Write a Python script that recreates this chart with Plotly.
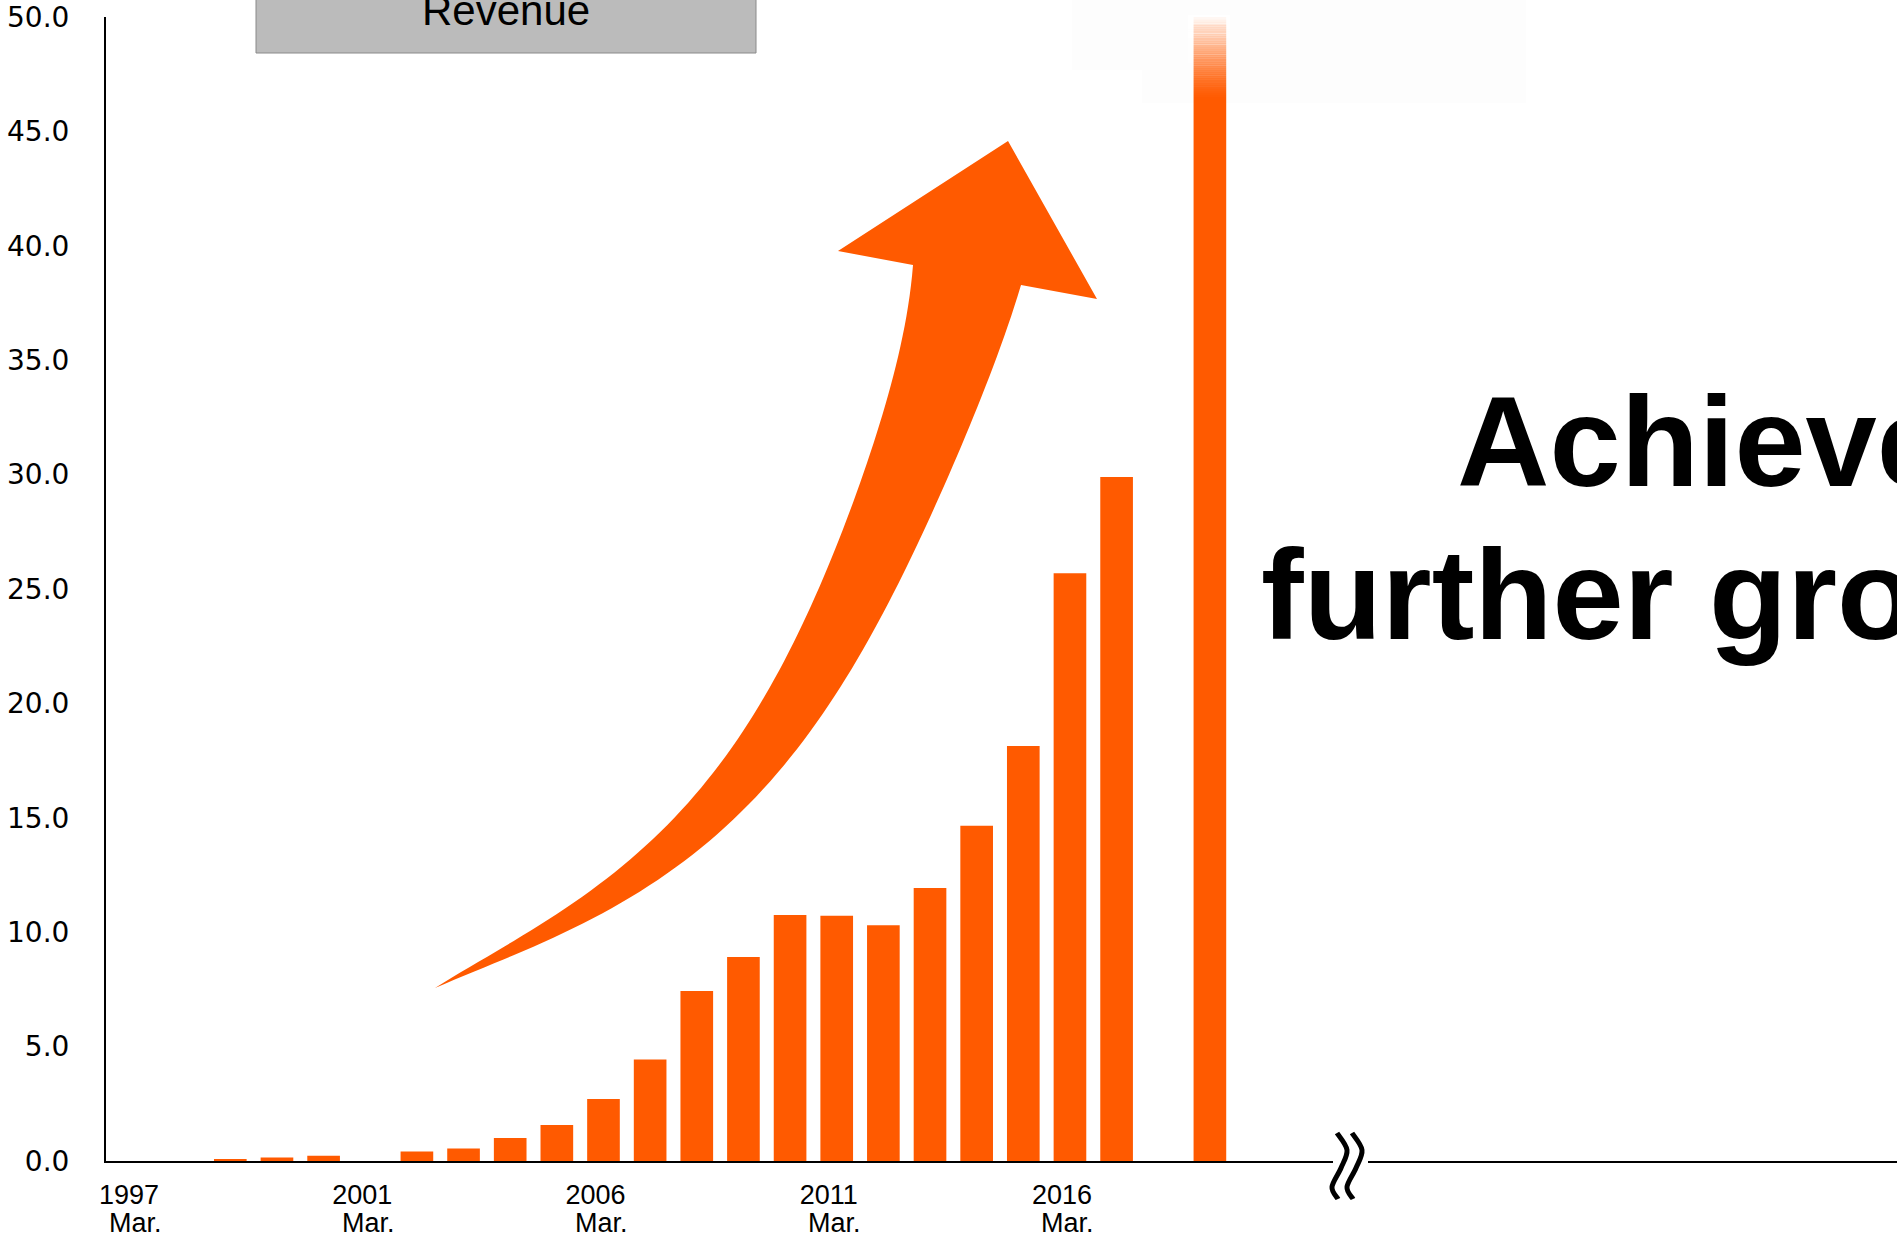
import numpy as np
import plotly.graph_objects as go

# ---------------- data ----------------
slots = list(range(24))
revenue = [None, None, 0.09, 0.15, 0.23, None, 0.41, 0.55, 1.0, 1.57, 2.71, 4.44,
           7.43, 8.92, 10.75, 10.72, 10.30, 11.93, 14.65, 18.14, 25.69, 29.90, None, 60.0]
tick_slots = [0, 5, 10, 15, 20]
tick_years = ["1997", "2001", "2006", "2011", "2016"]
tick_month = ["Mar.", "Mar.", "Mar.", "Mar.", "Mar."]
y_ticks = [0, 5, 10, 15, 20, 25, 30, 35, 40, 45, 50]
title_box = "Revenue"
message = ["Achieve", "further growth"]

ORANGE = "#FF5A00"
W, H = 1897, 1240
L, T, R, B = 106, 17, 0, 79
PW, PH = W - L - R, H - T - B
BASE = H - B  # page y of plot bottom


def px(x):
    return (x - L) / PW


def py(y):
    return (BASE - y) / PH


def smooth(points):
    d = ""
    n = len(points)
    for i in range(n - 1):
        p0 = points[i - 1] if i > 0 else points[i]
        p1 = points[i]
        p2 = points[i + 1]
        p3 = points[i + 2] if i + 2 < n else points[i + 1]
        c1 = (p1[0] + (p2[0] - p0[0]) / 6, p1[1] + (p2[1] - p0[1]) / 6)
        c2 = (p2[0] - (p3[0] - p1[0]) / 6, p2[1] - (p3[1] - p1[1]) / 6)
        d += " C {:.5f},{:.5f} {:.5f},{:.5f} {:.5f},{:.5f}".format(
            px(c1[0]), py(c1[1]), px(c2[0]), py(c2[1]), px(p2[0]), py(p2[1]))
    return d


def lin(points):
    return "".join(" L {:.5f},{:.5f}".format(px(a), py(b)) for a, b in points)


def fit_curve(points, deg=5, n=90):
    pts = np.array(points, dtype=float)
    seg = np.sqrt((np.diff(pts, axis=0) ** 2).sum(axis=1))
    t = np.concatenate([[0], np.cumsum(seg)])
    t = t / t[-1]
    w = np.ones(len(t))
    w[0] = w[-1] = 30
    cx = np.polyfit(t, pts[:, 0], deg, w=w)
    cy = np.polyfit(t, pts[:, 1], deg, w=w)
    ts = np.linspace(0, 1, n)
    out = list(zip(np.polyval(cx, ts), np.polyval(cy, ts)))
    out[0] = tuple(pts[0])
    out[-1] = tuple(pts[-1])
    return out


fig = go.Figure()
fig.add_trace(go.Bar(x=slots, y=revenue, marker_color=ORANGE, marker_line_width=0,
                     width=0.7, showlegend=False, hoverinfo="skip"))

shapes = []

# faint background boxes at top right
shapes.append(dict(type="rect", xref="paper", yref="paper", x0=px(1072), x1=px(1453),
                   y0=py(70), y1=py(-20), fillcolor="#FDFDFD", line_width=0, layer="below"))
shapes.append(dict(type="rect", xref="paper", yref="paper", x0=px(1142), x1=px(1526),
                   y0=py(103), y1=py(-20), fillcolor="#FDFDFD", line_width=0, layer="below"))

# Revenue box
shapes.append(dict(type="rect", xref="paper", yref="paper", x0=px(256), x1=px(756),
                   y0=py(53), y1=py(-5), fillcolor="#BBBBBB",
                   line=dict(color="#8A8A8A", width=1), layer="above"))

# fade at the top of the tall bar
n_f = 40
top, bot = 15, 99
for i in range(n_f):
    y0 = top + (bot - top) * i / n_f
    y1 = top + (bot - top) * (i + 1) / n_f
    op = 1 - (i + 0.5) / n_f
    shapes.append(dict(type="rect", xref="paper", yref="paper", x0=px(1188), x1=px(1230),
                       y0=py(y1), y1=py(y0 - 0.3), fillcolor="white", opacity=op ** 1.3,
                       line_width=0, layer="above"))

# curved arrow (outline)
upper = [(435, 988), (503, 950), (560, 913), (600, 880), (620, 863), (660, 837), (670, 820),
         (707, 787), (750, 720), (787, 653), (822, 580), (837, 540), (860, 483), (880, 433),
         (895, 367), (907, 300), (913, 265)]
head = [(838, 251), (1008, 141), (1097, 299), (1021, 285)]
lower = [(1021, 285), (1017, 300), (1012, 320), (993, 367), (967, 433), (937, 500),
         (910, 553), (882, 620), (860, 657), (813, 727), (760, 793), (707, 843), (680, 863),
         (657, 880), (627, 900), (563, 933), (503, 960), (435, 988)]
up_s = fit_curve(upper)
lo_s = fit_curve(lower)
path = "M {:.5f},{:.5f}".format(px(up_s[0][0]), py(up_s[0][1]))
path += lin(up_s[1:]) + lin(head) + lin(lo_s[1:]) + " Z"
shapes.append(dict(type="path", xref="paper", yref="paper", path=path,
                   fillcolor=ORANGE, line_width=0, layer="above"))

# axis break mark
shapes.append(dict(type="rect", xref="paper", yref="paper", x0=px(1333), x1=px(1368),
                   y0=py(1166), y1=py(1156), fillcolor="white", line_width=0, layer="above"))
for dx in (0, 15):
    p = [(1337 + dx, 1133), (1347 + dx, 1150), (1341 + dx, 1168), (1332 + dx, 1187), (1338 + dx, 1199)]
    d = "M {:.5f},{:.5f}".format(px(p[0][0]), py(p[0][1])) + smooth(p)
    shapes.append(dict(type="path", xref="paper", yref="paper", path=d,
                       line=dict(color="black", width=5), layer="above"))

annotations = []
annotations.append(dict(text=title_box, xref="paper", yref="paper", x=px(506), y=py(10.5),
                        xanchor="center", yanchor="middle", showarrow=False,
                        font=dict(family="Liberation Sans, Arial", size=42, color="black")))
annotations.append(dict(text="<b>" + message[0] + "</b>", xref="paper", yref="paper",
                        x=px(1455), y=py(441), xanchor="left", yanchor="middle", showarrow=False,
                        font=dict(family="Liberation Sans, Arial", size=128, color="black")))
annotations.append(dict(text="<b>" + message[1] + "</b>", xref="paper", yref="paper",
                        x=px(1259), y=py(594), xanchor="left", yanchor="middle", showarrow=False,
                        font=dict(family="Liberation Sans, Arial", size=128, color="black")))
for s, m in zip(tick_slots, tick_month):
    annotations.append(dict(text=m, xref="x", yref="paper", x=s, y=py(1222.5),
                            xanchor="center", yanchor="middle", showarrow=False, xshift=-2,
                            font=dict(family="Liberation Sans, Arial", size=27, color="black")))

fig.update_layout(
    width=W, height=H, margin=dict(l=L, r=R, t=T, b=B, autoexpand=False),
    paper_bgcolor="white", plot_bgcolor="white", template="none",
    bargap=0.3, shapes=shapes, annotations=annotations, showlegend=False,
    xaxis=dict(range=[-0.665, 37.73], tickvals=tick_slots, ticktext=tick_years,
               tickfont=dict(family="Liberation Sans, Arial", size=27, color="black"),
               showline=True, linecolor="black", linewidth=2, showgrid=False, zeroline=False,
               ticks="", ticklabelstandoff=9, ticklabelshift=-8, automargin=False),
    yaxis=dict(range=[0, 50], tickvals=y_ticks, tickformat=".1f",
               tickfont=dict(family="DejaVu Sans, Verdana", size=28, color="black"),
               showline=True, linecolor="black", linewidth=2, showgrid=False, zeroline=False,
               ticks="", ticklabelstandoff=29, automargin=False),
)

fig.write_html("out.html", config={"displayModeBar": False},
               post_script="document.body.style.margin='0px';")
